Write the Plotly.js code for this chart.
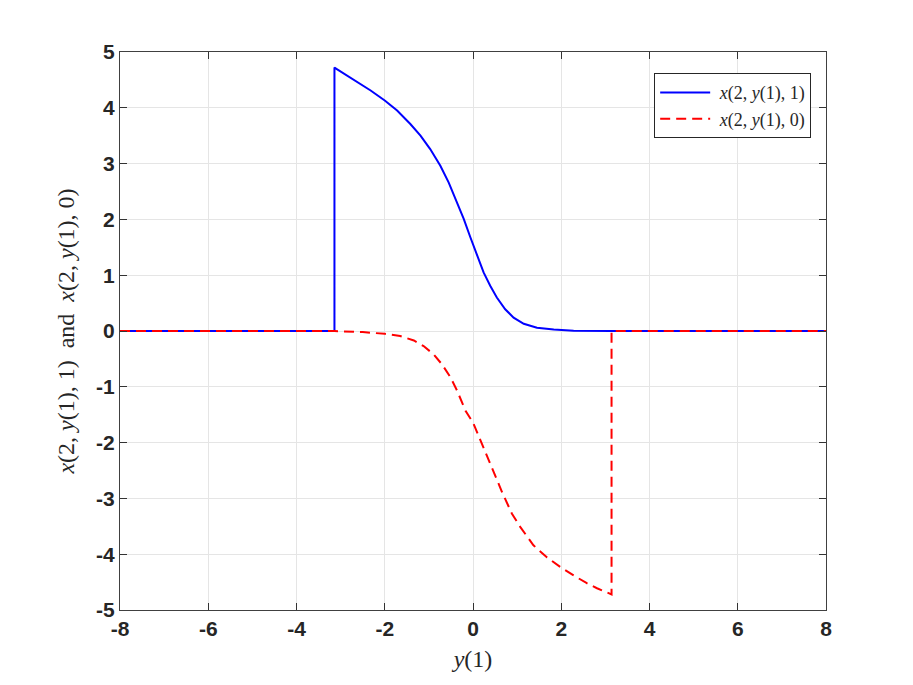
<!DOCTYPE html>
<html>
<head>
<meta charset="utf-8">
<script src="https://cdn.plot.ly/plotly-3.0.1.min.js"></script>
<style>
  html, body { margin: 0; padding: 0; background: #ffffff; }
  #grafico { width: 913px; height: 685px; }
</style>
</head>
<body>
<div id="grafico"></div>
<script>
// curva x(2, y(1), 1)
const xBlue = [-8, -3.14, -3.14, -2.7, -2.32, -2.0, -1.72, -1.42, -1.19, -0.97, -0.74, -0.55, -0.36, -0.21, -0.06, 0.09, 0.24, 0.39, 0.54, 0.73, 0.92, 1.15, 1.45, 1.83, 2.28, 3.14, 8];
const yBlue = [0, 0, 4.72, 4.50, 4.31, 4.13, 3.95, 3.71, 3.50, 3.26, 2.96, 2.66, 2.31, 2.01, 1.68, 1.35, 1.05, 0.81, 0.60, 0.39, 0.24, 0.13, 0.06, 0.025, 0.006, 0, 0];

// curva x(2, y(1), 0)
const xRed = [-8, -3.14, -2.5, -2.0, -1.65, -1.34, -1.12, -0.89, -0.70, -0.51, -0.36, -0.17, 0, 0.24, 0.47, 0.66, 0.88, 1.07, 1.37, 1.68, 1.98, 2.28, 2.58, 2.81, 3.14, 3.14, 8];
const yRed = [0, 0, -0.02, -0.05, -0.09, -0.17, -0.27, -0.42, -0.60, -0.83, -1.07, -1.43, -1.64, -2.08, -2.53, -2.89, -3.27, -3.51, -3.84, -4.06, -4.23, -4.38, -4.52, -4.61, -4.72, 0, 0];

const xTicks = [-8, -6, -4, -2, 0, 2, 4, 6, 8];
const yTicks = [-5, -4, -3, -2, -1, 0, 1, 2, 3, 4, 5];

const data = [
    {
        x: xBlue,
        y: yBlue,
        type: 'scatter',
        mode: 'lines',
        name: '&nbsp;<i>x</i>(2,&nbsp;<i>y</i>(1),&nbsp;1)',
        line: { color: '#0000ff', width: 2 }
    },
    {
        x: xRed,
        y: yRed,
        type: 'scatter',
        mode: 'lines',
        name: '&nbsp;<i>x</i>(2,&nbsp;<i>y</i>(1),&nbsp;0)',
        line: { color: '#ff0000', width: 2, dash: '10px,6px' }
    }
];

const eixo = {
    showline: true,
    linecolor: '#404040',
    linewidth: 1,
    mirror: 'ticks',
    ticks: 'inside',
    ticklen: 7,
    tickcolor: '#333333',
    showgrid: true,
    gridcolor: '#e5e5e5',
    zeroline: false,
    tickfont: { family: 'Liberation Sans, Arial, sans-serif', size: 21, color: '#262626', weight: 'bold' }
};

const fonteSerif = 'Liberation Serif, serif';

const layout = {
    width: 913,
    height: 685,
    margin: { l: 120, r: 87, t: 52, b: 75 },
    paper_bgcolor: '#ffffff',
    plot_bgcolor: '#ffffff',
    showlegend: true,
    legend: {
        x: 0.979, y: 0.962,
        xanchor: 'right', yanchor: 'top',
        bgcolor: '#ffffff',
        bordercolor: '#262626',
        borderwidth: 1,
        itemwidth: 50,
        tracegroupgap: 0,
        font: { family: fonteSerif, size: 18, color: '#262626' }
    },
    xaxis: Object.assign({}, eixo, {
        range: [-8, 8],
        tickvals: xTicks,
        ticktext: xTicks.map(String),
        title: { text: '<i>y</i>(1)', font: { family: fonteSerif, size: 24, color: '#262626' }, standoff: 10 }
    }),
    yaxis: Object.assign({}, eixo, {
        range: [-5, 5],
        tickvals: yTicks,
        ticktext: yTicks.map(String),
        title: { text: '<i>x</i>(2,&nbsp;<i>y</i>(1),&nbsp;1)&nbsp; and &nbsp;<i>x</i>(2,&nbsp;<i>y</i>(1),&nbsp;0)', font: { family: fonteSerif, size: 24, color: '#262626' }, standoff: 14 }
    })
};

Plotly.newPlot('grafico', data, layout, { displayModeBar: false });
</script>
</body>
</html>
